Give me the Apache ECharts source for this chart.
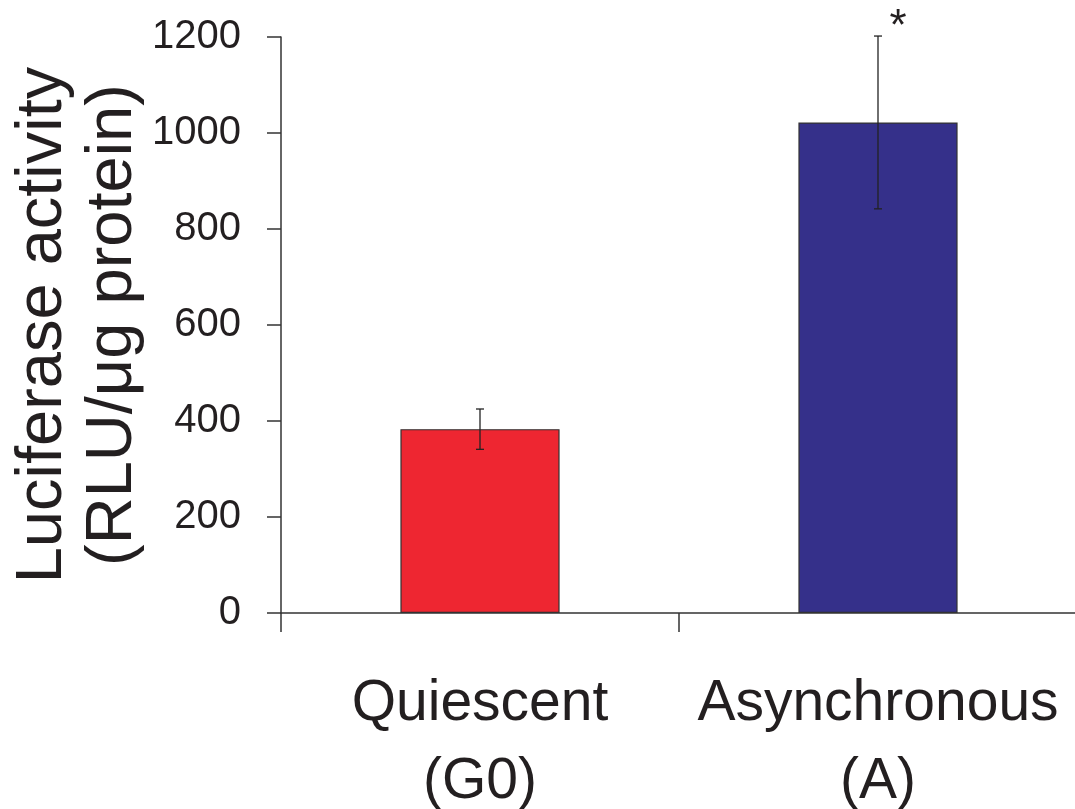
<!DOCTYPE html>
<html>
<head>
<meta charset="utf-8">
<style>
  html, body { margin: 0; padding: 0; background: #fff; }
  #main { width: 1075px; height: 809px; }
</style>
<script src="https://cdn.jsdelivr.net/npm/echarts@6/dist/echarts.min.js"></script>
</head>
<body>
<div id="main"></div>
<script>
// data
const categories = ['Quiescent\n(G0)', 'Asynchronous\n(A)'];
const activity = [383, 1022];        // RLU/μg protein
const errors = [42, 180];            // +/- error
const significance = ['', '*'];
const barColors = ['#EE2631', '#35308A'];

const chartDom = document.getElementById('main');
const myChart = echarts.init(chartDom);
const textColor = '#231F20';
const font = '"Liberation Sans", Arial, Helvetica, sans-serif';

const option = {
  animation: false,
  grid: {
    left: 281,
    right: -2,
    top: 37,
    bottom: 196,
    containLabel: false,
    outerBoundsMode: 'none',
  },
  xAxis: {
    type: 'category',
    data: categories,
    axisLine: { lineStyle: { color: '#333', width: 1.5 } },
    axisTick: { show: true, length: 19, alignWithLabel: false, lineStyle: { color: '#333', width: 1.5 } },
    axisLabel: {
      color: textColor,
      fontFamily: font,
      fontSize: 57,
      lineHeight: 78,
      margin: 52,
      interval: 0,
    },
  },
  yAxis: {
    type: 'value',
    min: 0,
    max: 1200,
    interval: 200,
    name: 'Luciferase activity\n(RLU/μg protein)',
    nameLocation: 'middle',
    nameRotate: 90,
    nameGap: 133,
    nameMoveOverlap: false,
    nameTextStyle: {
      color: textColor,
      fontFamily: font,
      fontSize: 65,
      lineHeight: 70,
    },
    axisLine: { show: true, lineStyle: { color: '#333', width: 1.5 } },
    axisTick: { show: true, inside: false, length: 14, lineStyle: { color: '#333', width: 1.5 } },
    splitLine: { show: false },
    axisLabel: {
      color: textColor,
      fontFamily: font,
      fontSize: 40,
      margin: 40,
      formatter: (v) => String(v),
    },
  },
  series: [
    {
      name: 'Luciferase activity',
      type: 'bar',
      barWidth: '40%',
      data: activity.map((v, i) => ({
        value: v,
        itemStyle: { color: barColors[i], borderColor: '#333', borderWidth: 1.2 },
      })),
    },
    {
      name: 'error',
      type: 'custom',
      data: activity.map((v, i) => [i, v - errors[i], v + errors[i]]),
      z: 10,
      renderItem: function (params, api) {
        const x = api.value(0);
        const low = api.coord([x, api.value(1)]);
        const high = api.coord([x, api.value(2)]);
        const half = 4;
        const style = { stroke: '#222', lineWidth: 1.3 };
        const children = [
          { type: 'line', shape: { x1: high[0], y1: high[1], x2: low[0], y2: low[1] }, style: style },
          { type: 'line', shape: { x1: high[0] - half, y1: high[1], x2: high[0] + half, y2: high[1] }, style: style },
          { type: 'line', shape: { x1: low[0] - half, y1: low[1], x2: low[0] + half, y2: low[1] }, style: style },
        ];
        const sig = significance[params.dataIndex];
        if (sig) {
          children.push({
            type: 'text',
            style: {
              text: sig,
              x: high[0] + 20,
              y: high[1] - 30,
              align: 'center',
              verticalAlign: 'top',
              fill: textColor,
              font: '44px ' + font,
            },
          });
        }
        return { type: 'group', children: children };
      },
    },
  ],
};

option && myChart.setOption(option);
</script>
</body>
</html>
